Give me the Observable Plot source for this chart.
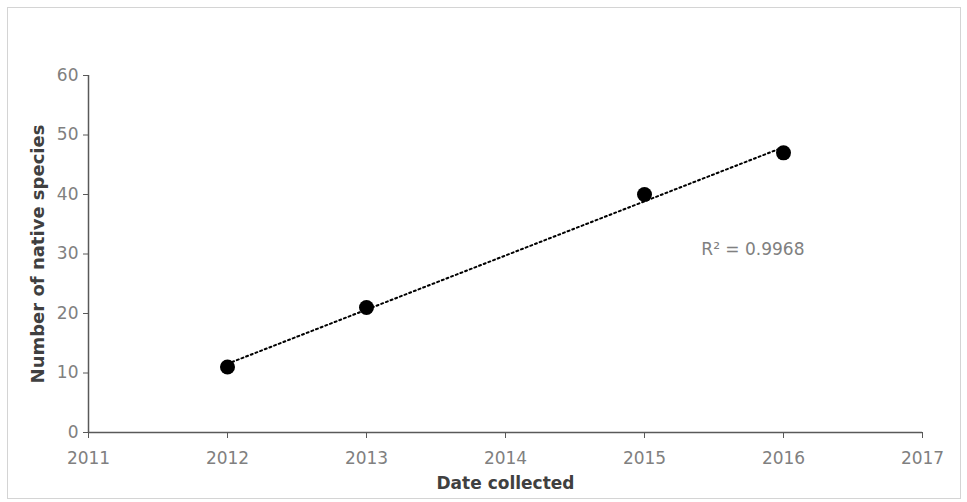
<!DOCTYPE html>
<html><head><meta charset="utf-8">
<script src="https://cdn.jsdelivr.net/npm/d3@7"></script>
<script src="https://cdn.jsdelivr.net/npm/@observablehq/plot@0.6"></script>
<style>
body{margin:0;background:#fff}
#wrap{position:relative;width:967px;height:502px}
#wrap svg{position:absolute;left:0;top:0}
#frame{position:absolute;left:7px;top:7px;width:952px;height:490px;border:1px solid #d4d4d4;pointer-events:none}
</style></head><body>
<div id="wrap"><div id="frame"></div></div>
<script>
const years = [2012, 2013, 2015, 2016];
const species = [11, 21, 40, 47];
const xTicks = [2011, 2012, 2013, 2014, 2015, 2016, 2017];
const yTicks = [0, 10, 20, 30, 40, 50, 60];
const xTitle = "Date collected";
const yTitle = "Number of native species";
const rSquaredLabel = ["R² = 0.9968"];
const rSquaredPos = {x: 2015.78, y: 30.8};

const data = years.map((yr, i) => ({year: yr, n: species[i]}));

const chart = Plot.plot({
  width: 967, height: 502,
  marginLeft: 88, marginRight: 45, marginTop: 75, marginBottom: 70,
  style: {fontFamily: "DejaVu Sans", fontSize: "17px", background: "transparent"},
  x: {domain: [2011, 2017], label: null},
  y: {domain: [0, 60], label: null},
  marks: [
    Plot.axisX({ticks: xTicks, tickFormat: "d", tickSize: 6, tickPadding: 13, stroke: "#595959", fill: "#808080", label: null, fontSize: 17}),
    Plot.axisY({ticks: yTicks, tickSize: 5, tickPadding: 5, stroke: "#595959", fill: "#808080", label: null, fontSize: 17}),
    Plot.ruleY([0], {stroke: "#595959", strokeWidth: 1.5}),
    Plot.ruleX([2011], {stroke: "#595959", strokeWidth: 1.5}),
    Plot.linearRegressionY(data, {x: "year", y: "n", stroke: "black", strokeWidth: 2, strokeDasharray: "2,3", ci: 0}),
    Plot.dot(data, {x: "year", y: "n", r: 7.5, fill: "black"}),
    Plot.text(rSquaredLabel, {x: () => rSquaredPos.x, y: () => rSquaredPos.y, text: d => d, fontSize: 17, fill: "#808080"}),
    Plot.text([xTitle], {frameAnchor: "bottom", dy: 56, text: d => d, fontWeight: "bold", fontSize: 17, fill: "#404040"}),
    Plot.text([yTitle], {frameAnchor: "left", dx: -50, rotate: -90, textAnchor: "middle", text: d => d, fontWeight: "bold", fontSize: 18, fill: "#404040"})
  ]
});
document.getElementById("wrap").prepend(chart);
</script>
</body></html>
